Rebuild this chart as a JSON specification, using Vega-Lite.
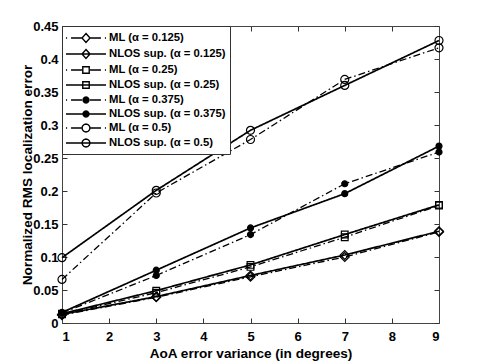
{
  "$schema": "https://vega.github.io/schema/vega-lite/v6.json",
  "width": 377,
  "height": 297,
  "autosize": "none",
  "padding": {"left": 62, "top": 26, "right": 46, "bottom": 41},
  "background": "white",
  "config": {
    "view": {"stroke": null},
    "font": "Liberation Sans",
    "axis": {
      "labelFont": "Liberation Sans",
      "labelFontSize": 13,
      "labelFontWeight": 700,
      "labelColor": "black",
      "titleFont": "Liberation Sans",
      "titleFontSize": 13.6,
      "titleFontWeight": 700,
      "titleColor": "black",
      "domainColor": "#444",
      "tickColor": "#333",
      "grid": false,
      "tickWidth": 1
    }
  },
  "data": {
    "values": [
      {"var": 1, "value": 0.012, "series": "ML (α = 0.125)", "method": "ML"},
      {"var": 3, "value": 0.039, "series": "ML (α = 0.125)", "method": "ML"},
      {"var": 5, "value": 0.070, "series": "ML (α = 0.125)", "method": "ML"},
      {"var": 7, "value": 0.100, "series": "ML (α = 0.125)", "method": "ML"},
      {"var": 9, "value": 0.138, "series": "ML (α = 0.125)", "method": "ML"},
      {"var": 1, "value": 0.013, "series": "NLOS sup. (α = 0.125)", "method": "NLOS"},
      {"var": 3, "value": 0.040, "series": "NLOS sup. (α = 0.125)", "method": "NLOS"},
      {"var": 5, "value": 0.072, "series": "NLOS sup. (α = 0.125)", "method": "NLOS"},
      {"var": 7, "value": 0.103, "series": "NLOS sup. (α = 0.125)", "method": "NLOS"},
      {"var": 9, "value": 0.139, "series": "NLOS sup. (α = 0.125)", "method": "NLOS"},
      {"var": 1, "value": 0.013, "series": "ML (α = 0.25)", "method": "ML"},
      {"var": 3, "value": 0.046, "series": "ML (α = 0.25)", "method": "ML"},
      {"var": 5, "value": 0.085, "series": "ML (α = 0.25)", "method": "ML"},
      {"var": 7, "value": 0.130, "series": "ML (α = 0.25)", "method": "ML"},
      {"var": 9, "value": 0.178, "series": "ML (α = 0.25)", "method": "ML"},
      {"var": 1, "value": 0.014, "series": "NLOS sup. (α = 0.25)", "method": "NLOS"},
      {"var": 3, "value": 0.049, "series": "NLOS sup. (α = 0.25)", "method": "NLOS"},
      {"var": 5, "value": 0.088, "series": "NLOS sup. (α = 0.25)", "method": "NLOS"},
      {"var": 7, "value": 0.134, "series": "NLOS sup. (α = 0.25)", "method": "NLOS"},
      {"var": 9, "value": 0.179, "series": "NLOS sup. (α = 0.25)", "method": "NLOS"},
      {"var": 1, "value": 0.015, "series": "ML (α = 0.375)", "method": "ML"},
      {"var": 3, "value": 0.072, "series": "ML (α = 0.375)", "method": "ML"},
      {"var": 5, "value": 0.134, "series": "ML (α = 0.375)", "method": "ML"},
      {"var": 7, "value": 0.211, "series": "ML (α = 0.375)", "method": "ML"},
      {"var": 9, "value": 0.259, "series": "ML (α = 0.375)", "method": "ML"},
      {"var": 1, "value": 0.016, "series": "NLOS sup. (α = 0.375)", "method": "NLOS"},
      {"var": 3, "value": 0.080, "series": "NLOS sup. (α = 0.375)", "method": "NLOS"},
      {"var": 5, "value": 0.144, "series": "NLOS sup. (α = 0.375)", "method": "NLOS"},
      {"var": 7, "value": 0.196, "series": "NLOS sup. (α = 0.375)", "method": "NLOS"},
      {"var": 9, "value": 0.268, "series": "NLOS sup. (α = 0.375)", "method": "NLOS"},
      {"var": 1, "value": 0.066, "series": "ML (α = 0.5)", "method": "ML"},
      {"var": 3, "value": 0.197, "series": "ML (α = 0.5)", "method": "ML"},
      {"var": 5, "value": 0.278, "series": "ML (α = 0.5)", "method": "ML"},
      {"var": 7, "value": 0.369, "series": "ML (α = 0.5)", "method": "ML"},
      {"var": 9, "value": 0.417, "series": "ML (α = 0.5)", "method": "ML"},
      {"var": 1, "value": 0.099, "series": "NLOS sup. (α = 0.5)", "method": "NLOS"},
      {"var": 3, "value": 0.201, "series": "NLOS sup. (α = 0.5)", "method": "NLOS"},
      {"var": 5, "value": 0.292, "series": "NLOS sup. (α = 0.5)", "method": "NLOS"},
      {"var": 7, "value": 0.360, "series": "NLOS sup. (α = 0.5)", "method": "NLOS"},
      {"var": 9, "value": 0.428, "series": "NLOS sup. (α = 0.5)", "method": "NLOS"}
    ]
  },
  "resolve": {"axis": {"x": "independent", "y": "independent"}},
  "layer": [
    {
      "mark": {"type": "line", "color": "black"},
      "encoding": {
        "x": {"field": "var", "type": "quantitative",
          "scale": {"domain": [1, 9], "nice": false, "zero": false},
          "axis": {"orient": "bottom", "values": [1,2,3,4,5,6,7,8,9], "title": "AoA error variance (in degrees)", "labelPadding": 7, "titlePadding": 3, "ticks": false}},
        "y": {"field": "value", "type": "quantitative",
          "scale": {"domain": [0, 0.45], "nice": false},
          "axis": {"orient": "left", "values": [0,0.05,0.1,0.15,0.2,0.25,0.3,0.35,0.4,0.45], "format": "~g", "title": "Normalized RMS localization error", "labelPadding": 4, "titlePadding": -2, "ticks": false}},
        "detail": {"field": "series"},
        "strokeDash": {"field": "method", "type": "nominal", "scale": {"domain": ["ML", "NLOS"], "range": [[7, 3, 1.5, 3], [1, 0]]}, "legend": null},
        "strokeWidth": {"field": "method", "type": "nominal", "scale": {"domain": ["ML", "NLOS"], "range": [1.3, 1.7]}, "legend": null}
      }
    },
    {
      "mark": {"type": "point", "strokeWidth": 1.2, "opacity": 1, "color": "black"},
      "encoding": {
        "x": {"field": "var", "type": "quantitative",
          "axis": {"orient": "top", "offset": -297, "values": [1,2,3,4,5,6,7,8,9], "labels": false, "title": null, "domain": false, "ticks": true, "tickSize": 5}},
        "y": {"field": "value", "type": "quantitative",
          "axis": {"orient": "right", "offset": -377, "values": [0,0.05,0.1,0.15,0.2,0.25,0.3,0.35,0.4,0.45], "labels": false, "title": null, "domain": false, "ticks": true, "tickSize": 5}},
        "stroke": {"value": "black"},
        "shape": {"condition": [
          {"test": "indexof(datum.series,'0.125')>=0", "value": "diamond"},
          {"test": "indexof(datum.series,'0.25)')>=0", "value": "square"}
        ], "value": "circle"},
        "fill": {"condition": {"test": "indexof(datum.series,'0.375')>=0", "value": "black"}, "value": "transparent"},
        "size": {"condition": [
          {"test": "indexof(datum.series,'0.125')>=0", "value": 80},
          {"test": "indexof(datum.series,'0.25)')>=0", "value": 45},
          {"test": "indexof(datum.series,'0.375')>=0", "value": 36}
        ], "value": 64}
      }
    },
    {
      "mark": {"type": "point", "opacity": 0, "color": "black", "filled": false},
      "encoding": {
        "x": {"field": "var", "type": "quantitative",
          "axis": {"orient": "bottom", "offset": -297, "values": [1,2,3,4,5,6,7,8,9], "labels": false, "title": null, "ticks": true, "tickSize": 5}},
        "y": {"field": "value", "type": "quantitative",
          "axis": {"orient": "left", "offset": -377, "values": [0,0.05,0.1,0.15,0.2,0.25,0.3,0.35,0.4,0.45], "labels": false, "title": null, "ticks": true, "tickSize": 5}},
        "shape": {"field": "series", "type": "nominal",
          "scale": {"domain": ["ML (α = 0.125)", "NLOS sup. (α = 0.125)", "ML (α = 0.25)", "NLOS sup. (α = 0.25)", "ML (α = 0.375)", "NLOS sup. (α = 0.375)", "ML (α = 0.5)", "NLOS sup. (α = 0.5)"],
                    "range": [
                      "M-2.86,0H-2.7M-2.14,0H-0.57M0.57,0H2.14M2.7,0H2.86M0,-0.64L0.57,0L0,0.64L-0.57,0Z",
                      "M-2.86,0H2.86M0,-0.64L0.57,0L0,0.64L-0.57,0Z",
                      "M-2.86,0H-2.7M-2.14,0H-0.57M0.57,0H2.14M2.7,0H2.86M-0.46,-0.46H0.46V0.46H-0.46Z",
                      "M-2.86,0H2.86M-0.46,-0.46H0.46V0.46H-0.46Z",
                      "M-2.86,0H-2.7M-2.14,0H-0.57M0.57,0H2.14M2.7,0H2.86M0.43,0L0.372,0.215L0.215,0.372L0,0.43L-0.215,0.372L-0.372,0.215L-0.43,0L-0.372,-0.215L-0.215,-0.372L0,-0.43L0.215,-0.372L0.372,-0.215Z",
                      "M-2.86,0H2.86M0.43,0L0.372,0.215L0.215,0.372L0,0.43L-0.215,0.372L-0.372,0.215L-0.43,0L-0.372,-0.215L-0.215,-0.372L0,-0.43L0.215,-0.372L0.372,-0.215Z",
                      "M-2.86,0H-2.7M-2.14,0H-0.57M0.57,0H2.14M2.7,0H2.86M0.57,0L0.494,0.285L0.285,0.494L0,0.57L-0.285,0.494L-0.494,0.285L-0.57,0L-0.494,-0.285L-0.285,-0.494L0,-0.57L0.285,-0.494L0.494,-0.285Z",
                      "M-2.86,0H2.86M0.57,0L0.494,0.285L0.285,0.494L0,0.57L-0.285,0.494L-0.494,0.285L-0.57,0L-0.494,-0.285L-0.285,-0.494L0,-0.57L0.285,-0.494L0.494,-0.285Z"
                    ]},
          "legend": {
            "orient": "top-left", "offset": 0, "title": null,
            "strokeColor": "#333", "fillColor": "white", "padding": 4,
            "rowPadding": 0, "symbolSize": 196, "symbolOffset": 12,
            "symbolStrokeWidth": 1.4, "symbolOpacity": 1, "labelOffset": 15,
            "labelFont": "Liberation Sans", "labelFontSize": 11.3, "labelFontWeight": 700, "labelColor": "black"
          }
        },
        "fill": {"field": "series", "type": "nominal",
          "scale": {"domain": ["ML (α = 0.125)", "NLOS sup. (α = 0.125)", "ML (α = 0.25)", "NLOS sup. (α = 0.25)", "ML (α = 0.375)", "NLOS sup. (α = 0.375)", "ML (α = 0.5)", "NLOS sup. (α = 0.5)"],
                    "range": ["transparent", "transparent", "transparent", "transparent", "black", "black", "transparent", "transparent"]},
          "legend": {
            "orient": "top-left", "offset": 0, "title": null,
            "strokeColor": "#333", "fillColor": "white", "padding": 4,
            "rowPadding": 0, "symbolSize": 196, "symbolOffset": 12,
            "symbolStrokeWidth": 1.4, "symbolOpacity": 1, "labelOffset": 15,
            "labelFont": "Liberation Sans", "labelFontSize": 11.3, "labelFontWeight": 700, "labelColor": "black"
          }
        },
        "stroke": {"field": "series", "type": "nominal",
          "scale": {"domain": ["ML (α = 0.125)", "NLOS sup. (α = 0.125)", "ML (α = 0.25)", "NLOS sup. (α = 0.25)", "ML (α = 0.375)", "NLOS sup. (α = 0.375)", "ML (α = 0.5)", "NLOS sup. (α = 0.5)"],
                    "range": ["black", "black", "black", "black", "black", "black", "black", "black"]},
          "legend": {
            "orient": "top-left", "offset": 0, "title": null,
            "strokeColor": "#333", "fillColor": "white", "padding": 4,
            "rowPadding": 0, "symbolSize": 196, "symbolOffset": 12,
            "symbolStrokeWidth": 1.4, "symbolOpacity": 1, "labelOffset": 15,
            "labelFont": "Liberation Sans", "labelFontSize": 11.3, "labelFontWeight": 700, "labelColor": "black"
          }
        }
      }
    }
  ]
}
